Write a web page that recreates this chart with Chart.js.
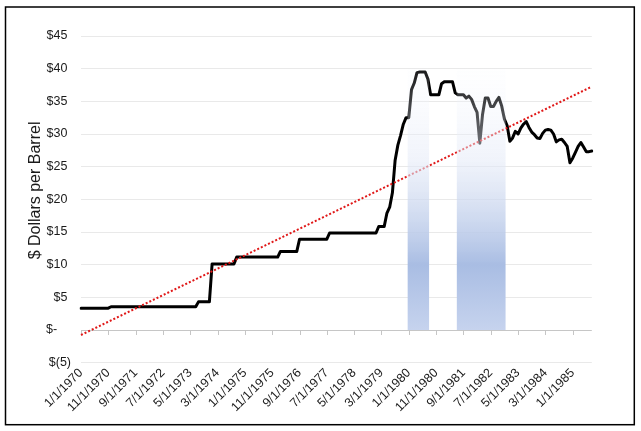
<!DOCTYPE html>
<html>
<head>
<meta charset="utf-8">
<script src="https://cdn.jsdelivr.net/npm/chart.js@4/dist/chart.umd.min.js"></script>
<style>
html,body{margin:0;padding:0;background:#fff;}
#wrap{position:relative;width:641px;height:431px;}
canvas{display:block;}
</style>
</head>
<body>
<div id="wrap"><canvas id="c" width="641" height="431"></canvas></div>
<script>
// ---------- DATA ----------
const startYear = 1970;
const price1970 = [3.35,3.35,3.35,3.35,3.35,3.35,3.35,3.35,3.35,3.35,3.35,3.56];
const price1971 = [3.56,3.56,3.56,3.56,3.56,3.56,3.56,3.56,3.56,3.56,3.56,3.56];
const price1972 = [3.56,3.56,3.56,3.56,3.56,3.56,3.56,3.56,3.56,3.56,3.56,3.56];
const price1973 = [3.56,3.56,3.56,3.56,3.56,3.56,3.56,4.31,4.31,4.31,4.31,4.31];
const price1974 = [10.11,10.11,10.11,10.11,10.11,10.11,10.11,10.11,10.11,11.16,11.16,11.16];
const price1975 = [11.16,11.16,11.16,11.16,11.16,11.16,11.16,11.16,11.16,11.16,11.16,11.16];
const price1976 = [11.16,12.03,12.03,12.03,12.03,12.03,12.03,12.03,13.90,13.90,13.90,13.90];
const price1977 = [13.90,13.90,13.90,13.90,13.90,13.90,13.90,14.85,14.85,14.85,14.85,14.85];
const price1978 = [14.85,14.85,14.85,14.85,14.85,14.85,14.85,14.85,14.85,14.85,14.85,14.85];
const price1979 = [14.85,15.85,15.85,15.85,17.9,18.8,21.0,26.0,28.3,29.8,31.5,32.5];
const price1980 = [32.5,36.8,37.8,39.4,39.5,39.5,39.5,38.4,36.0,36.0,36.0,36.0];
const price1981 = [37.7,38.0,38.0,38.0,38.0,36.3,36.0,36.0,36.0,35.5,35.8,35.3];
const price1982 = [34.2,33.3,28.6,33.0,35.5,35.5,34.2,34.2,35.0,35.6,34.3,32.3];
const price1983 = [31.3,28.9,29.4,30.4,30.0,30.9,31.5,31.9,31.0,30.3,29.9,29.4];
const price1984 = [29.3,30.1,30.6,30.7,30.6,30.0,28.8,29.1,29.2,28.7,28.1,25.6];
const price1985 = [26.3,27.2,28.1,28.7,28.0,27.3,27.3,27.4];

// recession periods: first and last month shaded
const recessionStarts = ["1/1/1980", "7/1/1981"];
const recessionEnds   = ["8/1/1980", "12/1/1982"];
const recessionHeight = 40;

const trendStart = -0.76;
const trendEnd = 37.25;

const yTickValues = [-5,0,5,10,15,20,25,30,35,40,45];
const labelEvery = 10;

// ---------- BUILD ----------
const prices = [].concat(price1970,price1971,price1972,price1973,price1974,price1975,price1976,
  price1977,price1978,price1979,price1980,price1981,price1982,price1983,price1984,price1985);
const labels = prices.map((_, i) => ((i % 12) + 1) + "/1/" + (startYear + Math.floor(i / 12)));
const last = labels.length - 1;
const trendData = labels.map((_, i) => i === 0 ? trendStart : (i === last ? trendEnd : null));

function fmtDollar(v) {
  if (v === 0) return "$-\u2007\u2007";
  if (v < 0) return "$(" + (-v) + ")";
  return "$" + v + "\u200A\u2009";
}

let gradCache = null;
function recessionFill(context) {
  const chart = context.chart;
  if (!chart.chartArea) return 'rgba(169,189,227,0.6)';
  const y = chart.scales.y;
  const top = y.getPixelForValue(recessionHeight), bot = y.getPixelForValue(0);
  const key = top + '_' + bot;
  if (gradCache && gradCache.key === key) return gradCache.g;
  const g = chart.ctx.createLinearGradient(0, top, 0, bot);
  g.addColorStop(0, 'rgba(245,248,255,0.10)');
  g.addColorStop(0.35, 'rgba(228,234,247,0.55)');
  g.addColorStop(0.75, 'rgba(169,189,227,1)');
  g.addColorStop(1, 'rgba(198,211,238,1)');
  gradCache = {key, g};
  return g;
}

// one filled band per recession, spanning its months (half a month either side, like a column)
const recessionDatasets = recessionStarts.map((s, k) => {
  const a = labels.indexOf(s), b = labels.indexOf(recessionEnds[k]);
  return {
    type: 'line',
    label: 'Recession ' + (k + 1),
    xAxisID: 'xr',
    data: [{ x: a - 0.5, y: recessionHeight }, { x: b + 0.5, y: recessionHeight }],
    borderWidth: 0,
    borderColor: 'rgba(0,0,0,0)',
    backgroundColor: recessionFill,
    fill: 'origin',
    pointRadius: 0,
    order: 0
  };
});

const decor = {
  id: 'decor',
  beforeDatasetsDraw(chart) {
    const {ctx, scales: {x, y}} = chart;
    const y0 = y.getPixelForValue(0);
    ctx.save();
    ctx.strokeStyle = '#c6c6c6';
    ctx.lineWidth = 1;
    ctx.beginPath();
    for (let i = 0; i <= last; i += labelEvery) {
      const px = Math.round(x.getPixelForTick(i)) + 0.5;
      ctx.moveTo(px, y0);
      ctx.lineTo(px, y0 + 5);
    }
    ctx.stroke();
    ctx.restore();
  },
  afterDraw(chart) {
    const ctx = chart.ctx;
    ctx.save();
    ctx.strokeStyle = '#000';
    ctx.lineWidth = 1.5;
    ctx.strokeRect(5.5, 7, 628.8, 417.7);
    ctx.restore();
  }
};

new Chart(document.getElementById('c'), {
  type: 'line',
  data: {
    labels: labels,
    datasets: recessionDatasets.concat([
      {
        type: 'line',
        label: 'Trend',
        data: trendData,
        spanGaps: true,
        borderColor: '#e01818',
        borderWidth: 2,
        borderDash: [2, 2],
        borderCapStyle: 'butt',
        pointRadius: 0,
        fill: false,
        order: 1
      },
      {
        type: 'line',
        label: 'Oil price',
        data: prices,
        borderColor: '#000',
        borderWidth: 3,
        borderJoinStyle: 'round',
        borderCapStyle: 'round',
        pointRadius: 0,
        tension: 0,
        fill: false,
        order: 2
      }
    ])
  },
  plugins: [decor],
  options: {
    responsive: false,
    animation: false,
    devicePixelRatio: 1,
    layout: { padding: { left: 0, top: 36, right: 49.2, bottom: 0 } },
    plugins: { legend: { display: false }, tooltip: { enabled: false } },
    scales: {
      x: {
        offset: false,
        grid: { display: false, drawTicks: false },
        border: { display: false },
        ticks: {
          autoSkip: false,
          maxRotation: 45,
          minRotation: 45,
          padding: 3,
          color: '#1a1a1a',
          font: { family: 'Liberation Sans, Arial, sans-serif', size: 12.5 },
          callback: (v, i) => (i % labelEvery === 0 ? labels[i] : '')
        },
        afterFit: (s) => { s.height = 68.3; }
      },
      xr: {
        type: 'linear',
        display: false,
        min: 0,
        max: last
      },
      y: {
        min: -5,
        max: 45,
        afterBuildTicks: (s) => { s.ticks = yTickValues.map(v => ({ value: v })); },
        grid: {
          drawTicks: false,
          color: (c) => (c.tick && c.tick.value === 0 ? '#c6c6c6' : '#e9e9e9'),
          lineWidth: 1
        },
        border: { display: false },
        ticks: {
          padding: 10,
          color: '#1a1a1a',
          font: { family: 'Liberation Sans, Arial, sans-serif', size: 12.5 },
          callback: (v) => fmtDollar(v)
        },
        title: {
          display: true,
          text: '    $ Dollars per Barrel',
          color: '#1a1a1a',
          font: { family: 'Liberation Sans, Arial, sans-serif', size: 16 },
          padding: { top: 26, bottom: 0 }
        },
        afterFit: (s) => { s.width = 81; }
      }
    }
  }
});
</script>
</body>
</html>
